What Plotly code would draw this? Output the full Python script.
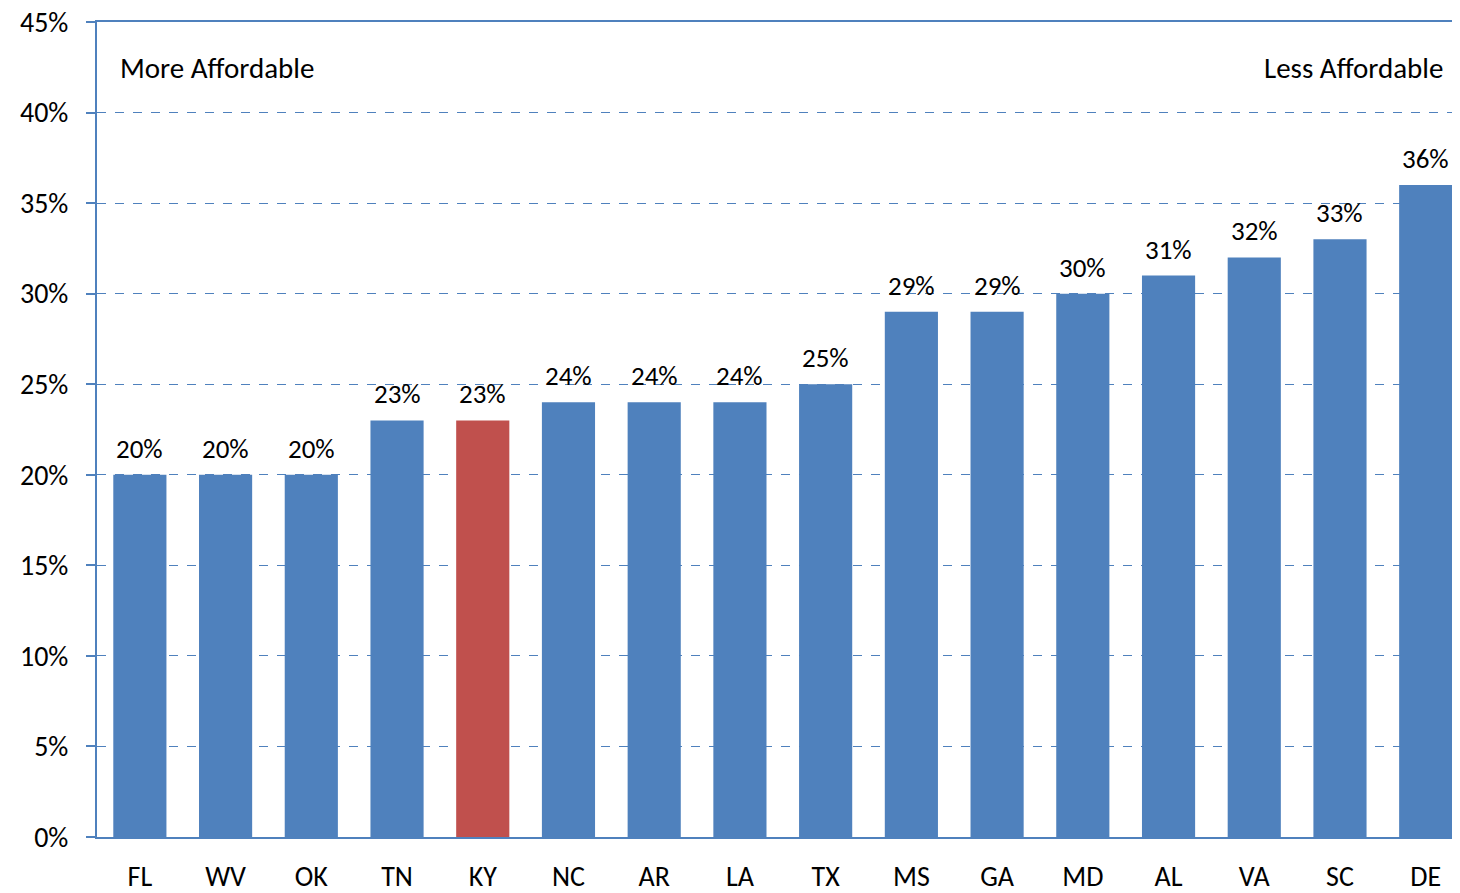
import plotly.graph_objs as go

# data
states = ['FL', 'WV', 'OK', 'TN', 'KY', 'NC', 'AR', 'LA', 'TX',
          'MS', 'GA', 'MD', 'AL', 'VA', 'SC', 'DE']
share = [0.20, 0.20, 0.20, 0.23, 0.23, 0.24, 0.24, 0.24, 0.25,
         0.29, 0.29, 0.30, 0.31, 0.32, 0.33, 0.36]
highlight = 'KY'

BLUE = '#4F81BD'
RED = '#C0504D'
FONT = 'Carlito, Calibri, Lato, sans-serif'

colors = [RED if s == highlight else BLUE for s in states]

# value labels above the bars
value_labels = [
    dict(x=s, y=v, xref='x', yref='y', text='{:.0%}'.format(v),
         showarrow=False, yanchor='bottom', yshift=8,
         font=dict(size=27, color='black'))
    for s, v in zip(states, share)]

side_labels = [
    dict(text='More Affordable', xref='paper', yref='paper',
         x=0.0154, y=0.943, xanchor='left', yanchor='middle',
         showarrow=False, font=dict(size=29, color='black')),
    dict(text='Less Affordable', xref='paper', yref='paper',
         x=0.989, y=0.943, xanchor='right', yanchor='middle',
         showarrow=False, font=dict(size=29, color='black'))]

# the page body has an 8px margin, so the figure is sized/offset for it
fig = go.Figure(
    data=[go.Bar(
        x=states,
        y=share,
        width=0.62,
        marker=dict(color=colors, line=dict(width=0)))],
    layout=go.Layout(
        width=1452, height=893,
        showlegend=False,
        plot_bgcolor='white',
        paper_bgcolor='white',
        margin=go.layout.Margin(l=89, r=0, t=14, b=64, autoexpand=False),
        font=dict(family=FONT, color='black'),
        xaxis=dict(
            range=[-0.5, 15.4],
            showline=True, mirror=True, linecolor=BLUE, linewidth=2,
            ticks='',
            ticklabelstandoff=13,
            ticklabeloverflow='allow',
            tickfont=dict(size=28, color='black')),
        yaxis=dict(
            range=[0, 0.45],
            dtick=0.05,
            tickformat='.0%',
            showline=True, linecolor=BLUE, linewidth=2,
            ticks='outside', ticklen=9, tickcolor=BLUE, tickwidth=1.5,
            showgrid=True, gridcolor=BLUE, griddash='dash', gridwidth=1.2,
            zeroline=False,
            ticklabelstandoff=12,
            ticklabeloverflow='allow',
            tickfont=dict(size=28, color='black')),
        annotations=value_labels + side_labels))

fig.write_html("out.html")
